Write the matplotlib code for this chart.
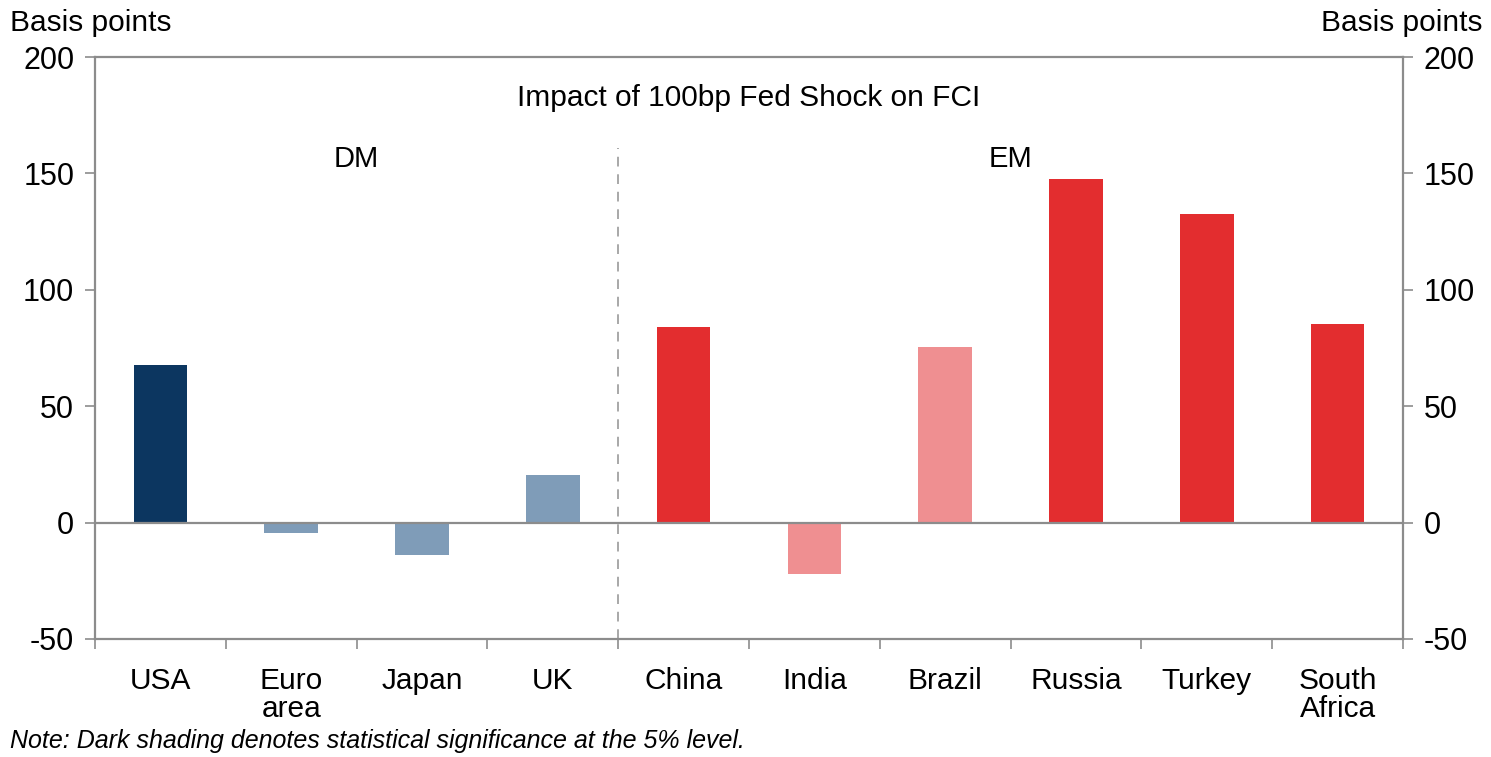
import numpy as np
from matplotlib import pyplot as plt

plt.rcParams['font.family'] = ['Liberation Sans', 'DejaVu Sans']
plt.rcParams['axes.unicode_minus'] = False

# data
countries = ['USA', 'Euro\narea', 'Japan', 'UK', 'China', 'India',
             'Brazil', 'Russia', 'Turkey', 'South\nAfrica']
impact = [67.5, -4.5, -14, 20.5, 84, -22, 75.5, 147.5, 132.5, 85.5]
bar_colors = ['#0c3660', '#7f9cb8', '#7f9cb8', '#7f9cb8', '#e32d2f',
              '#ef8f91', '#ef8f91', '#e32d2f', '#e32d2f', '#e32d2f']
yticks = [-50, 0, 50, 100, 150, 200]

fig = plt.figure(figsize=(14.91, 7.57), dpi=100)
ax = fig.add_axes([0.0637, 0.1559, 0.8773, 0.7688])

x = np.arange(len(countries))
ax.bar(x, impact, width=0.41, color=bar_colors, zorder=2)
ax.axhline(0, color='#8c8c8c', lw=1.6, zorder=3)
# dashed DM / EM divider
ax.vlines(3.5, -50, 161, color='#a8a8a8', lw=1.4, ls=(0, (5, 4)), zorder=1)

ax.set_xlim(-0.5, len(countries) - 0.5)
ax.set_ylim(-50, 200)
ax.set_yticks(yticks)

# x ticks sit between categories, labels centred under bars
ax.set_xticks(np.arange(-0.5, len(countries), 1.0))
ax.set_xticklabels([])
ax.set_xticks(x, minor=True)
ax.set_xticklabels(countries, minor=True, fontsize=21.5, linespacing=1.0)
ax.tick_params(axis='x', which='minor', length=0, pad=20)
ax.tick_params(axis='x', which='major', length=7, width=1.2, color='#8c8c8c')
ax.tick_params(axis='y', length=7, width=1.2, color='#8c8c8c',
               labelsize=22, pad=8, right=True, labelright=True)

for s in ax.spines.values():
    s.set_color('#8c8c8c')
    s.set_linewidth(1.6)

fig.text(0.007, 0.97, 'Basis points', fontsize=21.5, va='center', ha='left')
fig.text(0.994, 0.97, 'Basis points', fontsize=21.5, va='center', ha='right')
ax.text(0.5, 0.93, 'Impact of 100bp Fed Shock on FCI', transform=ax.transAxes,
        fontsize=21.5, ha='center', va='center')
ax.text(1.5, 156, 'DM', fontsize=21, ha='center', va='center')
ax.text(6.5, 156, 'EM', fontsize=21, ha='center', va='center')
fig.text(0.007, 0.021, 'Note: Dark shading denotes statistical significance at the 5% level.',
         fontsize=18, style='italic', ha='left', va='center')

fig.savefig('out.png', dpi=100)
